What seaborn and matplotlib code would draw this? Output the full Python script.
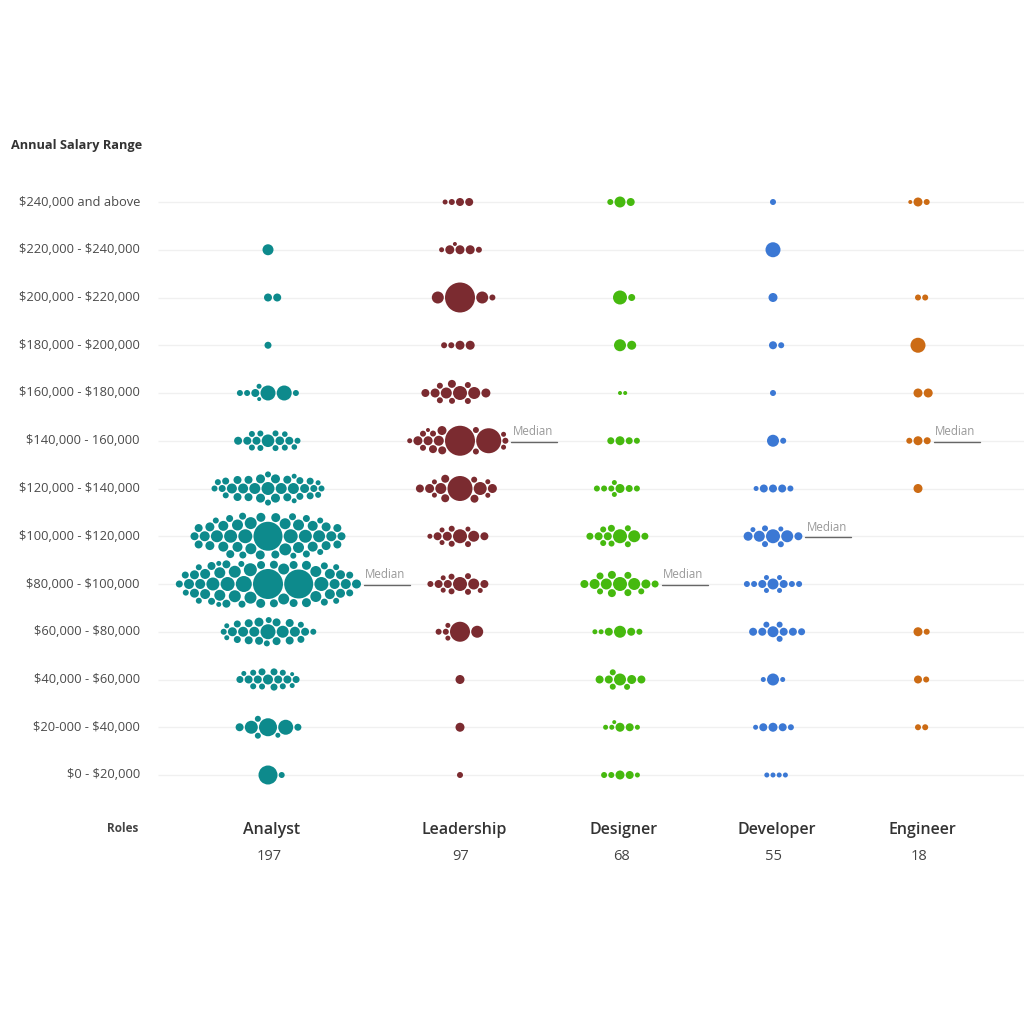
import numpy as np
import pandas as pd
import matplotlib
matplotlib.use("Agg")
import matplotlib.pyplot as plt
import seaborn as sns

# ---------------- data ----------------
BANDS = ["$240,000 and above", "$220,000 - $240,000", "$200,000 - $220,000",
         "$180,000 - $200,000", "$160,000 - $180,000", "$140,000 - 160,000",
         "$120,000 - $140,000", "$100,000 - $120,000", "$80,000 - $100,000",
         "$60,000 - $80,000", "$40,000 - $60,000", "$20-000 - $40,000",
         "$0 - $20,000"]

ROLES = ["Analyst", "Leadership", "Designer", "Developer", "Engineer"]
ROLE_COUNTS = [197, 97, 68, 55, 18]
MEDIAN_BAND = ["$80,000 - $100,000", "$140,000 - 160,000", "$80,000 - $100,000",
               "$100,000 - $120,000", "$140,000 - 160,000"]

# bubble magnitudes per band (top band first)
ANALYST = [
    [],
    [5.5],
    [4, 4],
    [3.5],
    [7.5, 7.5, 4, 3, 3, 3, 2.5, 2],
    [6.3, 4.3, 4, 4, 4, 4, 3, 3, 3, 3, 3, 3, 3, 3, 2.8, 2.8],
    [6.5, 5.5, 5.5, 5.5, 5, 5, 4.5, 4.5, 4.5, 4.5, 4.5, 4, 4, 4, 4, 4, 4,
     3.5, 3.5, 3.5, 3.5, 3.5, 3.5, 3.5, 3, 3, 3, 3, 3, 3, 3, 2.5, 2.5, 2.5],
    [14.5, 7, 7, 6.5, 6.5, 6, 6, 6, 6, 5.5, 5.5, 5.5, 5.5, 5.5,
     5, 5, 5, 5, 5, 5, 5, 4.5, 4.5, 4.5, 4.5, 4.5, 4.5, 4.5,
     4, 4, 4, 4, 4, 4, 4, 4, 3.5, 3.5, 3.5, 3.5, 3.5, 3.5, 3, 3, 3, 3],
    [15, 14.5, 8, 7, 7, 6.5, 6.5, 6, 6, 6, 5.5, 5.5, 5.5, 5.5, 5.5, 5.5,
     5, 5, 5, 5, 5, 5, 5, 5, 4.5, 4.5, 4.5, 4.5, 4.5, 4.5, 4.5, 4.5,
     4, 4, 4, 4, 4, 4, 4, 4, 3.5, 3.5, 3.5, 3.5, 3.5, 3.5, 3.5, 3.5,
     3, 3, 3, 3, 3, 3, 2.5, 2.5],
    [7.5, 6, 5, 5, 5, 4.5, 4.5, 4, 4, 4, 4, 4, 4, 4, 4, 3.5, 3.5, 3.5,
     3, 3, 3, 3, 3, 2.5, 2.5],
    [5, 4, 4, 4, 4, 3.5, 3.5, 3.5, 3.5, 3.5, 3, 3, 3, 3, 3, 2.5, 2.5, 2],
    [9, 7.5, 6.5, 4, 3.5, 3, 3, 2.5],
    [9.5, 3],
]
LEADERSHIP = [
    [4, 4, 3, 2.5],
    [4.5, 4.5, 4.5, 3, 2.5, 2],
    [15, 6, 6, 3],
    [4.5, 4.5, 3, 3],
    [7, 6, 5.5, 4.5, 4.5, 4, 4, 3, 3, 3, 3, 3],
    [15, 12.5, 5, 4.5, 4.5, 4.5, 4, 4, 3, 3, 3, 3, 3, 3, 2.5, 2.5, 2.5, 2],
    [12.5, 6.5, 5.5, 4.5, 4.5, 4, 4, 4, 4, 3, 2.5, 2.5, 2.5, 2.5],
    [7, 5.5, 4.5, 4, 4, 3, 3, 3, 2.5, 2.5, 2.5, 2.5],
    [7, 5.5, 4, 4, 4, 3, 3, 3, 3, 3, 2.5, 2.5, 2.5],
    [10, 6, 3, 3, 2.5, 2.5],
    [4.5],
    [4.5],
    [3],
]
DESIGNER = [
    [5.5, 4, 3],
    [],
    [7, 3.5],
    [6, 4.5],
    [2, 2],
    [4.5, 3.5, 3.5, 3],
    [4.5, 3.5, 3, 3, 3, 3, 2.5, 2.5],
    [7, 6, 4, 4, 3.5, 3.5, 3.5, 3, 3, 3, 3, 3],
    [7, 6, 5.5, 5, 4.5, 4, 4, 4, 3.5, 3.5, 3.5, 3.5, 3, 3],
    [6, 4, 4, 3, 2.5, 2.5],
    [6, 4.5, 4, 4, 4, 3, 3, 3],
    [4.5, 4, 2.5, 2.5, 2.5, 2],
    [4.5, 4, 3, 3, 2.5],
]
DEVELOPER = [
    [3],
    [7.5],
    [4.5],
    [4, 3],
    [3],
    [6, 3],
    [4, 4, 4, 3, 2.5],
    [7, 6, 5.5, 4.5, 4, 3, 3, 3, 2.5, 2.5],
    [5.5, 4, 4, 3, 3, 3, 3, 2.5, 2.5, 2.5, 2.5],
    [5.5, 4, 4, 4, 4, 3.5, 3, 3, 3],
    [6, 2.5, 2.5],
    [4.5, 4, 4, 3, 2.5],
    [2.5, 2.5, 2.5, 2.5],
]
ENGINEER = [
    [4.5, 3, 2],
    [],
    [3, 3],
    [7.5],
    [4.5, 4.5],
    [4.5, 3.5, 3],
    [4.5],
    [],
    [],
    [4.5, 3],
    [4, 3],
    [3, 3],
    [],
]
ROLE_DATA = [ANALYST, LEADERSHIP, DESIGNER, DEVELOPER, ENGINEER]

# ---------------- styling / layout ----------------
COLORS = {"Analyst": "#0d8a8c", "Leadership": "#7b2b30", "Designer": "#46b90f",
          "Developer": "#3b78d4", "Engineer": "#cc6b14"}
ROLE_X = [268, 460, 620, 773, 918]
BAND_TOP, BAND_STEP = 202.0, 47.75
PX_PER_UNIT = 1.0


def pack(radii, k=14.0, pad=1.2, ymax=24.0):
    rs = sorted(radii, reverse=True)
    P = np.zeros((0, 2))
    R = np.zeros(0)
    ang = np.linspace(0, 2 * np.pi, 36, endpoint=False)
    dirs = np.stack([np.cos(ang), np.sin(ang)], -1)
    for r in rs:
        if len(R) == 0:
            P = np.array([[0.0, 0.0]])
            R = np.array([r])
            continue
        D = R + r + pad
        c1 = (P[:, None, :] + D[:, None, None] * dirs[None]).reshape(-1, 2)
        cands = [c1, np.array([[0.0, 0.0]])]
        if len(R) > 1:
            i, j = np.triu_indices(len(R), 1)
            dv = P[j] - P[i]
            d = np.linalg.norm(dv, axis=1)
            di, dj = D[i], D[j]
            ok = (d < di + dj) & (d > np.abs(di - dj)) & (d > 0)
            if ok.any():
                dv, d, di, dj, Pi = dv[ok], d[ok], di[ok], dj[ok], P[i][ok]
                a = (di ** 2 - dj ** 2 + d ** 2) / (2 * d)
                h = np.sqrt(np.maximum(di ** 2 - a ** 2, 0))
                u = dv / d[:, None]
                perp = np.stack([-u[:, 1], u[:, 0]], -1)
                base = Pi + a[:, None] * u
                cands += [base + h[:, None] * perp, base - h[:, None] * perp]
        C = np.vstack(cands)
        dist = np.linalg.norm(C[:, None, :] - P[None], axis=-1)
        free = np.all(dist >= D[None] - 1e-6, axis=1)
        lim = ymax
        valid = free & (np.abs(C[:, 1]) + r <= lim)
        while not valid.any():
            lim += 4
            valid = free & (np.abs(C[:, 1]) + r <= lim)
        cost = C[:, 0] ** 2 + k * C[:, 1] ** 2
        cost[~valid] = np.inf
        best = C[np.argmin(cost)]
        P = np.vstack([P, best])
        R = np.append(R, r)
    return P, R


rows = []
median_ext = {}
for ri, (role, data) in enumerate(zip(ROLES, ROLE_DATA)):
    for bi, vals in enumerate(data):
        if not vals:
            continue
        radii = [v * PX_PER_UNIT for v in vals]
        P, R = pack(radii)
        by = BAND_TOP + bi * BAND_STEP
        for (px, py), r in zip(P, R):
            rows.append({"x": ROLE_X[ri] + px, "y": by + py, "role": role,
                         "s": (2 * r * 72 / 100) ** 2})
        if BANDS[bi] == MEDIAN_BAND[ri]:
            median_ext[role] = (ROLE_X[ri] + np.max(P[:, 0] + R), by)

df = pd.DataFrame(rows)

sns.set_theme(style="white")
plt.rcParams["font.family"] = ["Open Sans", "DejaVu Sans"]

fig = plt.figure(figsize=(10.24, 10.24), dpi=100)
ax = fig.add_axes([0, 0, 1, 1])
ax.set_xlim(0, 1024)
ax.set_ylim(1024, 0)
ax.axis("off")

band_y = [BAND_TOP + i * BAND_STEP for i in range(len(BANDS))]
ax.hlines(band_y, 158, 1024, color="#f0f0f0", lw=1.0, zorder=0)

sns.scatterplot(data=df, x="x", y="y", hue="role", palette=COLORS,
                s=df["s"].values, linewidth=0, legend=False, ax=ax, zorder=3)
ax.set_xlim(0, 1024)
ax.set_ylim(1024, 0)
ax.axis("off")


def esc(t):
    return t.replace("$", r"\$")


ax.text(11, 146, "Annual Salary Range", fontsize=9.2, fontweight="bold",
        color="#333333", ha="left", va="center")
for y, lab in zip(band_y, BANDS):
    ax.text(140, y, esc(lab), fontsize=9.3, color="#4a4a4a", ha="right", va="center")

ax.text(138, 829, "Roles", fontsize=8.5, fontweight="bold", color="#444444",
        ha="right", va="center")
for x, role, n in zip(ROLE_X, ROLES, ROLE_COUNTS):
    ax.text(x + 4, 830, role, fontsize=11.5, fontweight="semibold", color="#333333",
            ha="center", va="center")
    ax.text(x + 1, 856, str(n), fontsize=10.5, color="#444444", ha="center", va="center")

for role in ROLES:
    if role in median_ext:
        xr, y = median_ext[role]
        x0 = xr + 3
        ax.plot([x0, x0 + 46], [y + 1, y + 1], color="#666666", lw=1.0, zorder=2)
        ax.text(x0 + 1, y - 9, "Median", fontsize=8.3, color="#999999",
                ha="left", va="center")

fig.savefig("out.png", dpi=100, facecolor="white")
